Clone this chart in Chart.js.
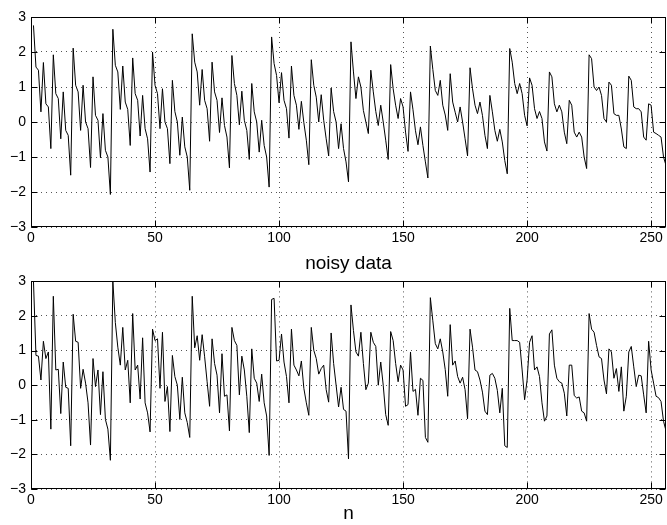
<!DOCTYPE html>
<html><head><meta charset="utf-8">
<script src="https://cdn.jsdelivr.net/npm/chart.js@4"></script>
<style>
html,body{margin:0;padding:0;background:#fff;}
#wrap{position:relative;width:667px;height:525px;overflow:hidden;}
canvas{position:absolute;left:0;}
</style></head><body>
<div id="wrap">
<canvas id="c1" width="667" height="275" style="top:0"></canvas>
<canvas id="c2" width="667" height="257" style="top:268px"></canvas>
</div>
<script>
// sample index n = 1..256
const xTicks = [0, 50, 100, 150, 200, 250];
const yTicks = [-3, -2, -1, 0, 1, 2, 3];
const topTitle = 'noisy data';
const bottomTitle = 'n';

const noisyA = [
 2.76, 1.57, 1.48, 0.29, 1.70, 0.52, 0.43, -0.76,
 1.92, 0.81, 0.67, -0.48, 0.86, -0.24, -0.38, -1.52,
 2.11, 1.05, 0.86, -0.24, 1.05, 0.00, -0.19, -1.30,
 1.29, 0.19, 0.05, -1.02, 0.24, -0.81, -1.00, -2.07,
 2.65, 1.62, 1.43, 0.36, 1.60, 0.57, 0.36, -0.67,
 1.83, 0.81, 0.62, -0.40, 0.76, -0.19, -0.48, -1.43,
 2.00, 1.05, 0.81, -0.19, 0.95, 0.00, -0.19, -1.19,
 1.19, 0.30, 0.00, -0.95, 0.14, -0.71, -1.00, -1.95,
 2.52, 1.71, 1.43, 0.48, 1.50, 0.62, 0.38, -0.55,
 1.71, 0.86, 0.62, -0.30, 0.69, -0.10, -0.43, -1.31,
 1.90, 1.10, 0.76, -0.08, 0.88, 0.05, -0.24, -1.07,
 1.10, 0.29, 0.00, -0.86, 0.05, -0.67, -1.00, -1.86,
 2.43, 1.67, 1.33, 0.55, 1.41, 0.62, 0.38, -0.46,
 1.60, 0.76, 0.48, -0.21, 0.59, -0.02, -0.52, -1.22,
 1.78, 1.05, 0.71, 0.00, 0.78, 0.05, -0.48, -0.97,
 0.97, 0.30, 0.00, -0.76, -0.05, -0.76, -1.14, -1.71,
 2.29, 1.43, 0.67, 1.29, 1.00, 0.33, 0.00, -0.33,
 1.48, 0.86, 0.30, -0.10, 0.48, 0.00, -0.52, -1.07,
 1.64, 0.95, 0.48, 0.10, 0.67, 0.43, -0.29, -0.84,
 0.86, 0.35, -0.25, -0.65, -0.14, -0.67, -1.14, -1.60,
 2.17, 1.50, 0.90, 0.76, 1.19, 0.48, 0.20, -0.24,
 1.38, 0.57, 0.28, 0.00, 0.43, 0.00, -0.48, -0.97,
 1.55, 0.95, 0.48, 0.24, 0.57, 0.19, -0.38, -0.76,
 0.76, 0.29, -0.24, -0.55, -0.21, -0.57, -1.10, -1.48,
 2.10, 1.71, 1.10, 0.81, 1.10, 0.81, 0.19, -0.11,
 1.26, 1.05, 0.38, 0.10, 0.30, 0.10, -0.57, -0.83,
 1.43, 1.29, 0.52, 0.29, 0.48, 0.29, -0.29, -0.62,
 0.62, 0.48, -0.29, -0.43, -0.29, -0.43, -1.00, -1.33,
 1.92, 1.81, 1.00, 0.90, 1.00, 0.76, 0.10, 0.00,
 1.14, 1.05, 0.24, 0.19, 0.19, -0.20, -0.71, -0.76,
 1.31, 1.19, 0.43, 0.38, 0.38, 0.29, -0.43, -0.52,
 0.52, 0.48, -0.29, -0.33, -0.38, -0.43, -1.00, -1.24
];

const noisyB = [
 3.00, 0.86, 0.84, 0.15, 1.27, 0.77, 0.96, -1.27,
 2.57, 0.44, 0.46, -0.82, 0.67, -0.06, -0.09, -1.75,
 2.05, 1.27, 1.24, -0.09, 0.46, 0.06, -0.51, -1.73,
 0.77, -0.04, 0.44, -0.85, 0.39, -0.99, -1.27, -2.17,
 3.00, 1.81, 1.10, 0.58, 1.67, 0.44, 0.72, -0.51,
 2.07, 0.44, 0.58, -0.40, 1.37, -0.51, -0.80, -1.35,
 1.62, 1.29, 1.34, -0.09, 1.53, -0.47, -0.04, -1.34,
 0.86, 0.25, 0.00, -0.99, 0.23, -0.80, -1.08, -1.51,
 2.57, 1.08, 1.43, 0.72, 1.46, 0.82, 0.10, -0.61,
 1.34, 0.63, 0.29, -0.80, 0.91, -0.32, -0.28, -1.32,
 1.67, 1.29, 1.15, -0.28, 0.84, 0.44, -0.32, -1.37,
 1.05, 0.20, 0.06, -0.47, 0.32, -0.51, -0.89, -2.03,
 2.48, 2.51, 0.70, 0.72, 1.48, 0.67, 0.25, -0.51,
 1.62, 0.58, 0.44, 0.27, 0.70, -0.09, -0.51, -0.87,
 1.67, 1.01, 0.77, 0.32, 0.48, 0.58, -0.13, -0.49,
 1.51, 0.63, 0.00, -0.63, -0.06, -0.70, -0.75, -2.13,
 2.32, 1.58, 0.96, 0.84, 1.53, 0.63, -0.13, 0.06,
 1.53, 1.24, 1.12, 0.00, 0.67, 0.00, -0.85, -1.16,
 1.55, 1.29, 0.63, 0.10, 0.58, 0.44, -0.61, -0.56,
 0.96, -0.18, -0.12, -0.87, 0.20, 0.14, -1.51, -1.65,
 2.53, 1.86, 1.20, 1.05, 1.34, 0.96, 0.45, -0.32,
 1.75, 0.58, 0.70, 0.25, 0.06, 0.23, -0.13, -0.97,
 1.62, 1.10, 0.44, 0.39, 0.15, -0.20, -0.75, -0.85,
 0.29, 0.34, 0.20, -0.15, -0.80, -0.09, -1.75, -1.80,
 2.22, 1.29, 1.29, 1.29, 1.24, 0.44, -0.42, 0.15,
 1.24, 1.43, 0.44, 0.53, 0.25, -0.51, -1.04, -0.89,
 1.48, 1.60, 0.58, 0.20, 0.10, 0.06, -0.23, -0.89,
 0.58, 0.58, -0.30, -0.37, -0.34, -0.75, -0.80, -1.04,
 2.07, 1.62, 1.53, 1.15, 0.82, 0.77, 0.15, -0.25,
 1.05, 0.96, 0.20, 0.48, -0.18, 0.53, -0.75, -0.32,
 0.96, 1.12, 0.53, -0.04, 0.29, 0.27, -0.28, -0.80,
 1.27, 0.44, 0.06, -0.32, -0.36, -0.47, -1.04, -1.32
];

const FONT = '"Liberation Sans", Arial, Helvetica, sans-serif';

const boxPlugin = {
  id: 'matlabBox',
  afterDatasetsDraw(chart) {
    const {ctx, chartArea: a, scales: {x, y}} = chart;
    ctx.save();
    ctx.strokeStyle = '#000';
    ctx.lineWidth = 1;
    const l = Math.round(a.left) + 0.5, r = Math.round(a.right) - 0.5;
    const t = Math.round(a.top) + 0.5, b = Math.round(a.bottom) - 0.5;
    ctx.strokeRect(l, t, r - l, b - t);
    const L = 6;
    ctx.beginPath();
    x.ticks.forEach(tk => {
      const px = Math.round(x.getPixelForValue(tk.value)) + 0.5;
      ctx.moveTo(px, b); ctx.lineTo(px, b - L);
      ctx.moveTo(px, t); ctx.lineTo(px, t + L);
    });
    y.ticks.forEach(tk => {
      const py = Math.round(y.getPixelForValue(tk.value)) + 0.5;
      ctx.moveTo(l, py); ctx.lineTo(l + L, py);
      ctx.moveTo(r, py); ctx.lineTo(r - L, py);
    });
    ctx.stroke();
    ctx.restore();
  }
};

function makeChart(id, values, title, padTop, axisH) {
  return new Chart(document.getElementById(id), {
    type: 'line',
    data: {
      datasets: [{
        data: values.map((v, i) => ({x: i + 1, y: v})),
        borderColor: '#000', borderWidth: 1, pointRadius: 0, tension: 0, fill: false
      }]
    },
    options: {
      responsive: false, animation: false,
      layout: {padding: {top: padTop, right: 1, left: 0, bottom: 0}},
      plugins: {legend: {display: false}, tooltip: {enabled: false}},
      scales: {
        x: {
          type: 'linear', min: 0, max: 256,
          afterBuildTicks: s => { s.ticks = xTicks.map(v => ({value: v})); },
          afterFit: s => { s.height = axisH; },
          grid: {color: '#555', lineWidth: 1, drawTicks: false},
          border: {display: false, dash: [1, 4]},
          ticks: {padding: 3, color: '#000', font: {family: FONT, size: 14}, maxRotation: 0, autoSkip: false},
          title: {display: true, text: title, color: '#000', font: {family: FONT, size: 19}, padding: {top: 0, bottom: 0}}
        },
        y: {
          min: -3, max: 3,
          afterBuildTicks: s => { s.ticks = yTicks.map(v => ({value: v})); },
          afterFit: s => { s.width = 31; },
          grid: {color: '#555', lineWidth: 1, drawTicks: false},
          border: {display: false, dash: [1, 4]},
          ticks: {padding: 5, color: '#000', font: {family: FONT, size: 14},
                  callback: v => v < 0 ? '\u2212' + Math.abs(v) : String(v)}
        }
      }
    },
    plugins: [boxPlugin]
  });
}

makeChart('c1', noisyA, topTitle, 17, 48);
makeChart('c2', noisyB, bottomTitle, 13, 36);
</script>
</body></html>
